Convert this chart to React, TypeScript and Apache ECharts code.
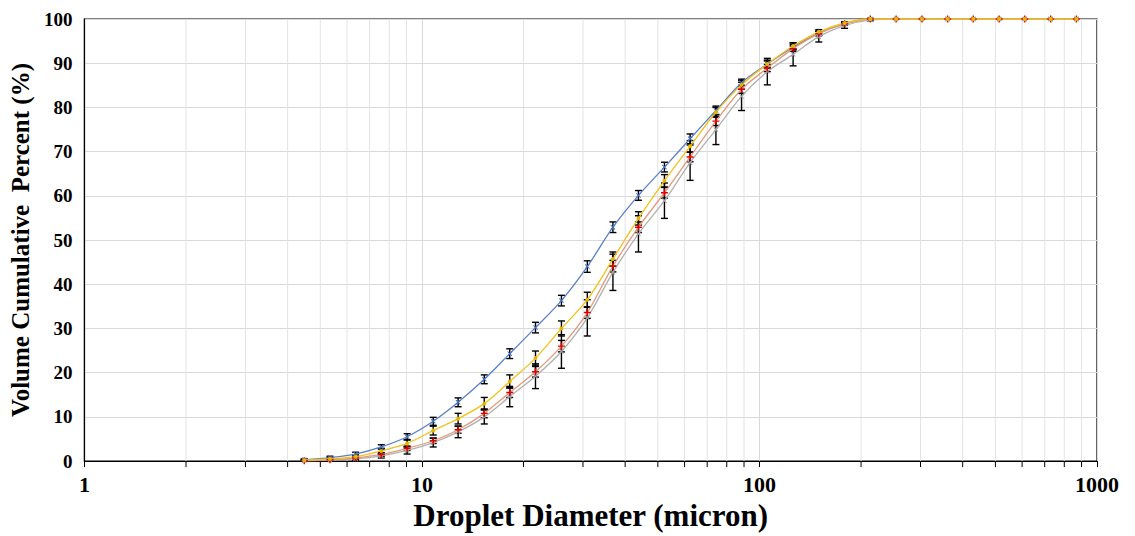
import React, { useEffect, useRef } from "react";
import * as echarts from "echarts";

const diameters = [4.48, 5.34, 6.36, 7.58, 9.04, 10.8, 12.8, 15.3, 18.2, 21.7, 25.9, 30.9, 36.8, 43.8, 52.3, 62.3, 74.3, 88.5, 105.5, 125.8, 149.9, 178.7, 213, 254, 303, 361, 430, 513, 611, 729, 869];

const blueValues = [0.3, 0.8, 1.6, 3.2, 5.5, 9.0, 13.3, 18.5, 24.3, 30.2, 36.3, 44.0, 52.9, 60.1, 66.5, 72.9, 79.3, 85.6, 89.8, 93.6, 96.8, 98.9, 100, 100, 100, 100, 100, 100, 100, 100, 100];
const yellowValues = [0.2, 0.5, 1.0, 2.3, 4.0, 6.9, 9.6, 13.0, 18.0, 23.3, 30.0, 36.5, 45.7, 54.9, 63.4, 71.2, 78.9, 85.1, 89.8, 93.9, 97.1, 99.1, 100, 100, 100, 100, 100, 100, 100, 100, 100];
const redValues = [0.1, 0.3, 0.7, 1.5, 2.9, 4.6, 7.1, 10.8, 15.5, 20.2, 26.0, 33.6, 44.1, 52.9, 60.7, 68.8, 76.9, 84.1, 88.9, 93.3, 96.7, 98.9, 100, 100, 100, 100, 100, 100, 100, 100, 100];
const grayValues = [0.1, 0.2, 0.5, 1.2, 2.4, 4.2, 6.6, 10.0, 14.6, 19.2, 24.8, 32.4, 42.7, 51.4, 58.9, 67.5, 75.0, 82.5, 88.1, 92.0, 96.0, 98.5, 99.8, 100, 100, 100, 100, 100, 100, 100, 100];

const blueErr = [0.2, 0.3, 0.4, 0.5, 0.7, 0.9, 1.0, 1.0, 1.1, 1.2, 1.2, 1.3, 1.2, 1.1, 1.1, 1.1, 1.0, 0.8, 0.7, 0.6, 0.5, 0.3, 0.1, 0, 0, 0, 0, 0, 0, 0, 0];
const yellowErr = [0.2, 0.3, 0.4, 0.6, 0.8, 1.0, 1.2, 1.4, 1.5, 1.6, 1.7, 1.7, 1.6, 1.5, 1.4, 1.3, 1.1, 1.0, 0.9, 0.7, 0.5, 0.3, 0.1, 0, 0, 0, 0, 0, 0, 0, 0];
const redErr = [0.1, 0.2, 0.3, 0.4, 0.5, 0.6, 0.8, 1.0, 1.1, 1.2, 1.3, 1.3, 1.3, 1.2, 1.2, 1.1, 1.0, 0.9, 0.8, 0.6, 0.5, 0.3, 0.1, 0, 0, 0, 0, 0, 0, 0, 0];
const grayErr = [0.1, 0.2, 0.3, 0.5, 0.8, 1.0, 1.3, 1.6, 2.3, 2.8, 3.8, 4.1, 4.1, 4.1, 4.0, 4.0, 3.4, 3.2, 3.0, 2.6, 1.2, 0.6, 0.2, 0, 0, 0, 0, 0, 0, 0, 0];

const minorTickValues = [2, 3, 4, 5, 6, 7, 8, 9, 20, 30, 40, 50, 60, 70, 80, 90, 200, 300, 400, 500, 600, 700, 800, 900];
const xTickLabels = ["1", "10", "100", "1000"];
const yTicks = [0, 10, 20, 30, 40, 50, 60, 70, 80, 90, 100];

const FONT = "'Liberation Serif', 'Times New Roman', serif";
const PLUS = "path://M4,0 L6,0 L6,4 L10,4 L10,6 L6,6 L6,10 L4,10 L4,6 L0,6 L0,4 L4,4 Z";
const CROSS = "path://M0,1.4 L1.4,0 L5,3.6 L8.6,0 L10,1.4 L6.4,5 L10,8.6 L8.6,10 L5,6.4 L1.4,10 L0,8.6 L3.6,5 Z";

function pairs(vals: number[]) {
  return diameters.map((d, i) => [d, vals[i]]);
}

function errData(vals: number[], errs: number[]) {
  const out: number[][] = [];
  diameters.forEach((d, i) => {
    if (errs[i] > 0) out.push([d, vals[i] - errs[i], vals[i] + errs[i]]);
  });
  return out;
}

function errorSeries(vals: number[], errs: number[]) {
  return {
    type: "custom",
    z: 2,
    silent: true,
    encode: { x: 0, y: [1, 2] },
    data: errData(vals, errs),
    renderItem: (params: any, api: any) => {
      const x = api.value(0);
      const lo = api.coord([x, api.value(1)]);
      const hi = api.coord([x, api.value(2)]);
      const w = 3.5;
      const style = { stroke: "#000", lineWidth: 1.4 };
      return {
        type: "group",
        children: [
          { type: "line", shape: { x1: lo[0], y1: lo[1], x2: hi[0], y2: hi[1] }, style },
          { type: "line", shape: { x1: lo[0] - w, y1: lo[1], x2: lo[0] + w, y2: lo[1] }, style },
          { type: "line", shape: { x1: hi[0] - w, y1: hi[1], x2: hi[0] + w, y2: hi[1] }, style },
        ],
      };
    },
  };
}

function lineSeries(name: string, vals: number[], color: string, symbol: string, symbolSize: number, markerColor: string) {
  return {
    name,
    type: "line",
    z: 3,
    data: pairs(vals),
    smooth: 0.3,
    symbol,
    symbolSize,
    showSymbol: true,
    lineStyle: { color, width: 1.3 },
    itemStyle: { color: markerColor },
  };
}

export default function App() {
  const ref = useRef<HTMLDivElement>(null);
  useEffect(() => {
    if (!ref.current) return;
    const chart = echarts.init(ref.current, null, { renderer: "svg" });
    chart.setOption({
      animation: false,
      backgroundColor: "#fff",
      grid: { left: 82, right: 38, top: 19, bottom: 73, show: true, borderColor: "#000", borderWidth: 1.2, backgroundColor: "transparent" },
      xAxis: {
        type: "log",
        logBase: 10,
        min: 1,
        max: 1000,
        name: "Droplet Diameter (micron)",
        nameLocation: "middle",
        nameGap: 33,
        nameTextStyle: { fontFamily: FONT, fontWeight: "bold", fontSize: 31, color: "#000" },
        axisLine: { show: true, lineStyle: { color: "#000", width: 1.2 } },
        axisTick: { show: true, length: 6, lineStyle: { color: "#000" } },
        axisLabel: {
          fontFamily: FONT,
          fontWeight: "bold",
          fontSize: 22,
          color: "#000",
          margin: 12,
          formatter: (v: number) => {
            const idx = Math.round(Math.log10(v));
            return xTickLabels[idx] !== undefined ? xTickLabels[idx] : "";
          },
        },
        splitLine: { show: true, lineStyle: { color: "#D9D9D9", width: 1 } },
      },
      yAxis: {
        type: "value",
        min: 0,
        max: 100,
        interval: 10,
        name: "Volume Cumulative  Percent (%)",
        nameLocation: "middle",
        nameGap: 47,
        nameTextStyle: { fontFamily: FONT, fontWeight: "bold", fontSize: 25, color: "#000" },
        axisLine: { show: true, lineStyle: { color: "#000", width: 1.2 } },
        axisTick: { show: false },
        axisLabel: { fontFamily: FONT, fontWeight: "bold", fontSize: 19, color: "#000", margin: 12, formatter: (v: number) => (yTicks.includes(v) ? String(v) : "") },
        splitLine: { show: true, lineStyle: { color: "#D9D9D9", width: 1 } },
      },
      series: [
        {
          type: "custom",
          z: 1,
          silent: true,
          clip: false,
          encode: { x: 0, y: 1 },
          data: minorTickValues.map((v) => [v, 0]),
          renderItem: (params: any, api: any) => {
            const v = api.value(0);
            const b = api.coord([v, 0]);
            const t = api.coord([v, 100]);
            return {
              type: "group",
              children: [
                { type: "line", shape: { x1: b[0], y1: b[1], x2: t[0], y2: t[1] }, style: { stroke: "#E3E3E3", lineWidth: 1 } },
                { type: "line", shape: { x1: b[0], y1: b[1], x2: b[0], y2: b[1] + 6 }, style: { stroke: "#000", lineWidth: 1 } },
              ],
            };
          },
        },
        errorSeries(blueValues, blueErr),
        errorSeries(grayValues, grayErr),
        errorSeries(redValues, redErr),
        errorSeries(yellowValues, yellowErr),
        lineSeries("Blue", blueValues, "#5B80C8", CROSS, 5, "#4472C4"),
        lineSeries("Gray", grayValues, "#B0B0B0", CROSS, 5, "#A0A0A0"),
        lineSeries("Red", redValues, "#E29A7A", PLUS, 7, "#E00000"),
        lineSeries("Yellow", yellowValues, "#F2C21A", "circle", 4, "#E8B400"),
      ],
    });
    return () => chart.dispose();
  }, []);
  return <div ref={ref} style={{ position: "fixed", left: 0, top: 0, width: 1135, height: 536, background: "#fff" }} />;
}
